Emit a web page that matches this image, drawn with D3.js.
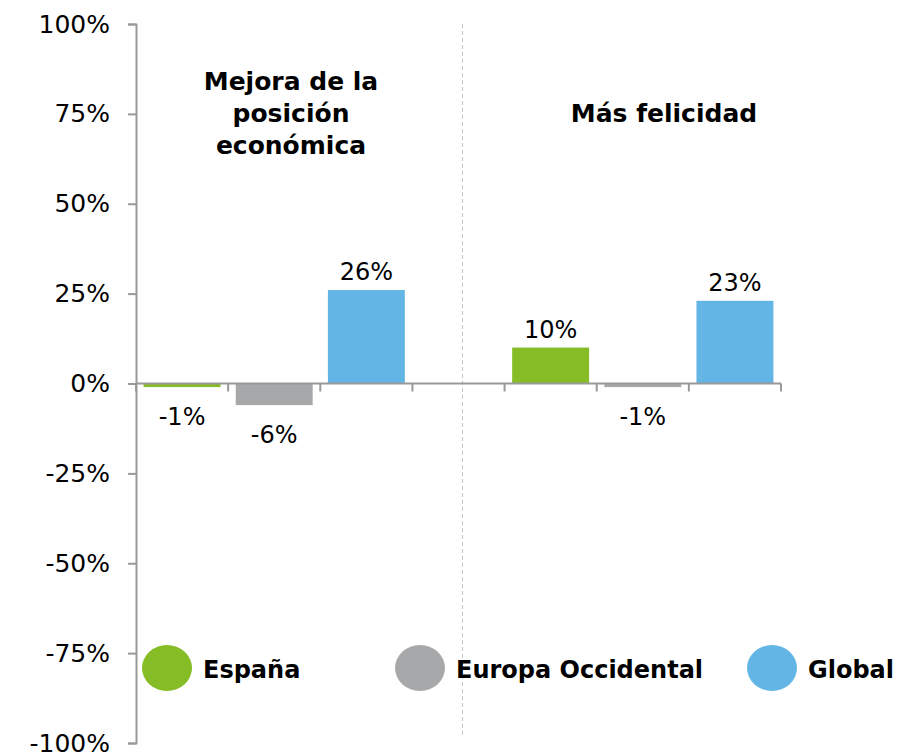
<!DOCTYPE html>
<html>
<head>
<meta charset="utf-8">
<script src="https://cdn.jsdelivr.net/npm/d3@7"></script>
<style>
  body { margin: 0; background: #fff; }
  svg { font-family: "DejaVu Sans", Verdana, sans-serif; }
</style>
</head>
<body>
<svg width="900" height="753"></svg>
<script>
// slots along the x axis: two groups of three, with an empty slot between
var slots = ['esp1', 'eur1', 'glo1', 'gap', 'esp2', 'eur2', 'glo2'];
var series = ['España', 'Europa Occidental', 'Global'];
var colors = ['#86BC25', '#A7A8AA', '#62B5E5'];
var mejoraValues = [-1, -6, 26];
var felicidadValues = [10, -1, 23];
var yTicks = [-100, -75, -50, -25, 0, 25, 50, 75, 100];

var bars = [];
series.forEach(function(s, i) {
    bars.push({ slot: slots[i], value: mejoraValues[i], color: colors[i] });
    bars.push({ slot: slots[i + 4], value: felicidadValues[i], color: colors[i] });
});

var svg = d3.select('svg');
var margin = { top: 24, left: 136 },
    drawWidth = 645,
    drawHeight = 719;

var xScale = d3.scaleBand()
    .domain(slots)
    .range([margin.left, margin.left + drawWidth])
    .paddingInner(0.165)
    .paddingOuter(0.0825);

var yScale = d3.scaleLinear()
    .domain([-100, 100])
    .range([margin.top + drawHeight, margin.top]);

// dashed divider between the two groups
var midX = xScale('gap') + xScale.bandwidth() / 2 + 4;
svg.append('line')
    .attr('x1', midX).attr('x2', midX)
    .attr('y1', margin.top).attr('y2', 736)
    .attr('stroke', '#c4c4c4')
    .attr('stroke-width', 1)
    .attr('stroke-dasharray', '4,3');

// bars
svg.append('g')
  .selectAll('rect')
  .data(bars)
  .enter().append('rect')
    .attr('x', function(d) { return xScale(d.slot); })
    .attr('width', xScale.bandwidth())
    .attr('y', function(d) { return yScale(Math.max(0, d.value)); })
    .attr('height', function(d) { return Math.abs(yScale(d.value) - yScale(0)); })
    .attr('fill', function(d) { return d.color; });

// y axis
var yAxis = svg.append('g')
    .attr('transform', 'translate(' + margin.left + ',0)')
    .call(d3.axisLeft(yScale).tickValues(yTicks).tickSize(8).tickPadding(18)
        .tickFormat(function(d) { return d + '%'; }));
yAxis.select('.domain').attr('stroke', '#999').attr('stroke-width', 2);
yAxis.selectAll('.tick line').attr('stroke', '#999').attr('stroke-width', 2);
yAxis.selectAll('.tick text')
    .attr('font-size', 25)
    .attr('fill', '#000')
    .attr('font-family', '"DejaVu Sans", Verdana, sans-serif');

// x axis on zero line with tick marks at band edges
var edges = slots.map(function(s) { return xScale(s) - xScale.step() * 0.0825; });
edges.push(margin.left + drawWidth);
var xAxis = svg.append('g');
xAxis.append('line')
    .attr('x1', margin.left).attr('x2', margin.left + drawWidth)
    .attr('y1', yScale(0)).attr('y2', yScale(0))
    .attr('stroke', '#999').attr('stroke-width', 2);
xAxis.selectAll('.xt')
  .data(edges)
  .enter().append('line')
    .attr('class', 'xt')
    .attr('x1', function(d) { return d; }).attr('x2', function(d) { return d; })
    .attr('y1', yScale(0)).attr('y2', yScale(0) + 8)
    .attr('stroke', '#999').attr('stroke-width', 2);

// value labels
svg.append('g')
  .selectAll('text')
  .data(bars)
  .enter().append('text')
    .attr('x', function(d) { return xScale(d.slot) + xScale.bandwidth() / 2; })
    .attr('y', function(d) { return d.value >= 0 ? yScale(d.value) - 10 : yScale(d.value) + 38; })
    .attr('text-anchor', 'middle')
    .attr('font-size', 24)
    .text(function(d) { return d.value + '%'; });

// group titles
var titles = [
    { x: 291, lines: ['Mejora de la', 'posición', 'económica'], y: 90 },
    { x: 664, lines: ['Más felicidad'], y: 122 }
];
titles.forEach(function(t) {
    var txt = svg.append('text')
        .attr('x', t.x).attr('y', t.y)
        .attr('text-anchor', 'middle')
        .attr('font-size', 25)
        .attr('font-weight', 'bold');
    t.lines.forEach(function(l, i) {
        txt.append('tspan').attr('x', t.x).attr('dy', i === 0 ? 0 : 32).text(l);
    });
});

// legend
var legendX = [167, 420, 772];
var legend = svg.append('g')
  .selectAll('g')
  .data(series)
  .enter().append('g')
    .attr('transform', function(d, i) { return 'translate(' + legendX[i] + ',668)'; });
legend.append('ellipse')
    .attr('rx', 25).attr('ry', 23)
    .attr('fill', function(d, i) { return colors[i]; });
legend.append('text')
    .attr('x', 36).attr('y', 10)
    .attr('font-size', 24)
    .attr('font-weight', 'bold')
    .text(function(d) { return d; });
</script>
</body>
</html>
